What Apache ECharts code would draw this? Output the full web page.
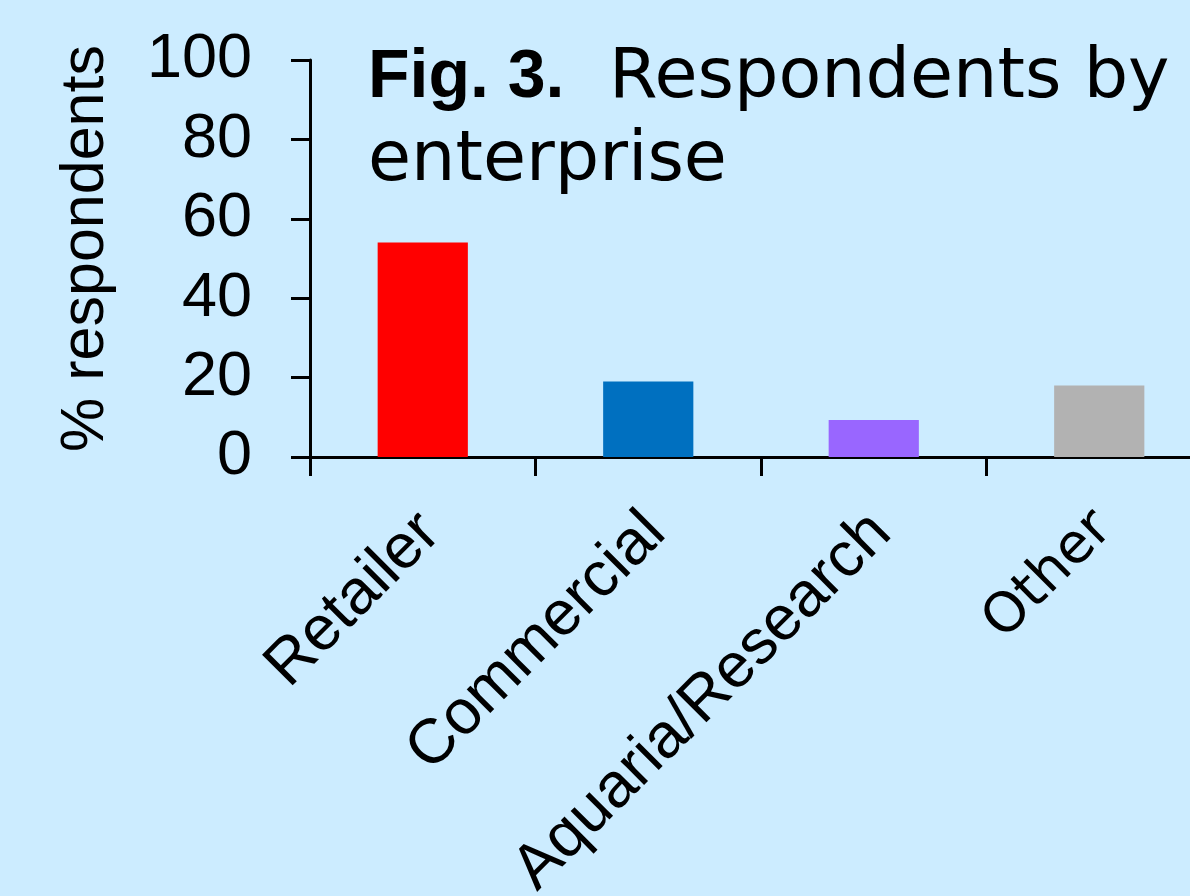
<!DOCTYPE html>
<html>
<head>
<meta charset="utf-8">
<title>Respondents by enterprise</title>
<script src="https://cdn.jsdelivr.net/npm/echarts@6/dist/echarts.min.js"></script>
<style>
  html, body { margin: 0; padding: 0; background: #CCECFF; }
  #chart { width: 1190px; height: 896px; }
</style>
</head>
<body>
<div id="chart"></div>
<script>
// Share of survey respondents by type of enterprise (%)
const categories = ['Retailer', 'Commercial', 'Aquaria/Research', 'Other'];
const shares = [54, 19, 9.3, 18];
const barColors = ['#FF0000', '#0070C0', '#9966FF', '#B2B2B2'];
const yMin = 0, yMax = 100, yStep = 20;

const chart = echarts.init(document.getElementById('chart'), null, { renderer: 'canvas' });

chart.setOption({
  backgroundColor: '#CCECFF',
  animation: false,
  title: {
    left: 363,
    top: 32,
    text: '{b|Fig. 3.}  Respondents by\nenterprise',
    textStyle: {
      fontFamily: 'DejaVu Sans',
      fontSize: 70,
      fontWeight: 'normal',
      color: '#000',
      lineHeight: 83,
      rich: {
        b: {
          fontFamily: 'Liberation Sans',
          fontWeight: 'bold',
          fontSize: 68,
          lineHeight: 83,
          color: '#000'
        }
      }
    }
  },
  grid: {
    left: 310,
    top: 60,
    width: 902,
    height: 397,
    containLabel: false,
    outerBoundsMode: 'none'
  },
  xAxis: {
    type: 'category',
    data: categories,
    boundaryGap: true,
    axisLine: { show: true, lineStyle: { color: '#000', width: 3 } },
    axisTick: { show: true, length: 19, alignWithLabel: false, lineStyle: { color: '#000', width: 3 } },
    axisLabel: {
      interval: 0,
      rotate: 45,
      margin: 29,
      align: 'right',
      verticalAlign: 'top',
      padding: [0, 21, 0, 0],
      fontFamily: 'Liberation Sans',
      fontSize: 63,
      color: '#000',
      formatter: function (v) { return v === 'Other' ? '{g|' + v + '}' : v; },
      rich: {
        g: { fontFamily: 'DejaVu Sans', fontSize: 55, color: '#000' }
      }
    },
    splitLine: { show: false }
  },
  yAxis: {
    type: 'value',
    min: yMin,
    max: yMax,
    interval: yStep,
    name: '% respondents',
    nameLocation: 'middle',
    nameRotate: 90,
    nameGap: 193,
    nameTextStyle: {
      fontFamily: 'Liberation Sans',
      fontSize: 61,
      color: '#000',
      padding: [0, 0, 0, 20]
    },
    axisLine: { show: true, lineStyle: { color: '#000', width: 3 } },
    axisTick: { show: true, inside: false, length: 19, lineStyle: { color: '#000', width: 3 } },
    axisLabel: {
      margin: 58,
      fontFamily: 'Liberation Sans',
      fontSize: 63,
      color: '#000'
    },
    splitLine: { show: false }
  },
  series: [{
    type: 'bar',
    data: shares.map((v, i) => ({ value: v, itemStyle: { color: barColors[i] } })),
    barWidth: '40%',
    itemStyle: { borderWidth: 0 }
  }]
});
</script>
</body>
</html>
